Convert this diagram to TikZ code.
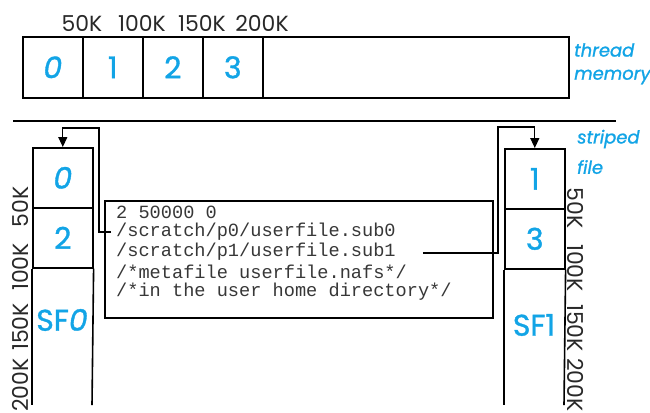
\documentclass[tikz,border=0pt]{standalone}
\usepackage{fontspec}
\setmainfont{Poppins}
\setmonofont{Liberation Mono}
\newfontfamily\inkfont{Poppins}[FakeBold=1.2]
\usetikzlibrary{arrows.meta}
\definecolor{inkblue}{RGB}{18,164,230}
\definecolor{labelgray}{RGB}{40,40,40}
\definecolor{codegray}{RGB}{55,55,55}
\begin{document}
\begin{tikzpicture}[x=1bp,y=-1bp,
  frame/.style={draw=black,line width=1.6bp},
  cell/.style={frame,minimum width=60bp,minimum height=60bp,inner sep=0pt,
    anchor=north west,text=inkblue,font=\inkfont\fontsize{30}{32}\selectfont},
  bluetxt/.style={text=inkblue,inner sep=0pt,font=\inkfont\fontsize{30}{32}\selectfont},
  note/.style={text=inkblue,inner sep=0pt,anchor=west,font=\inkfont\fontsize{18}{20}\selectfont},
  scalelabel/.style={text=labelgray,inner sep=0pt,font=\fontsize{22}{24}\selectfont},
  code/.style={text=codegray,inner sep=0pt,anchor=west,font=\ttfamily\fontsize{18.7}{20}\selectfont},
  conn/.style={draw=black,line width=1.3bp},
  tip/.style={-{Triangle[width=9bp,length=10bp]}}
]
\useasboundingbox (0,0) rectangle (650,412);

% thread memory buffer
\node[cell,minimum height=61bp] (m0) at (22,36) {\itshape 0};
\node[cell,minimum height=61bp] (m1) at (82,36) {1};
\node[cell,minimum height=61bp] (m2) at (142,36) {2};
\node[cell,minimum height=61bp] (m3) at (202,36) {3};
\node[frame,minimum width=306bp,minimum height=61bp,inner sep=0pt,anchor=north west] (mrest) at (262,36) {};
\node[scalelabel] (t50)  at (82,23)  {50K};
\node[scalelabel] (t100) at (142,23) {100K};
\node[scalelabel] (t150) at (202,23) {150K};
\node[scalelabel] (t200) at (262,23) {200K};
\node[note] (thread) at (574,50) {\itshape thread};
\node[note] (memory) at (574,77) {\itshape memory};

% separator
\draw[line width=2.4bp] (13,121) -- (616,121);

% striped file 0
\node[cell] (a0) at (32,147) {\itshape 0};
\node[cell] (a2) at (32,207) {2};
\draw[frame] (a2.south west) -- (32,405);
\draw[frame] (a2.south east) -- (92,405);
\node[bluetxt] (sf0) at (62,320) {SF\itshape 0};
\node[scalelabel,rotate=90] (l50)  at (20,207) {50K};
\node[scalelabel,rotate=90] (l100) at (20,267) {100K};
\node[scalelabel,rotate=90] (l150) at (20,327) {150K};
\node[scalelabel,rotate=90] (l200) at (20,385) {200K};

% striped file 1
\node[cell] (b1) at (504,148) {1};
\node[cell] (b3) at (504,208) {3};
\draw[frame] (b3.south west) -- (504,405);
\draw[frame] (b3.south east) -- (564,405);
\node[bluetxt] (sf1) at (534,325) {SF1};
\node[scalelabel,rotate=-90] (r50)  at (576,208) {50K};
\node[scalelabel,rotate=-90] (r100) at (576,268) {100K};
\node[scalelabel,rotate=-90] (r150) at (576,328) {150K};
\node[scalelabel,rotate=-90] (r200) at (576,385) {200K};
\node[note] (striped) at (577,139) {\itshape striped};
\node[note] (file) at (577,167) {\itshape file};

% metafile contents
\node[frame,minimum width=388bp,minimum height=117bp,inner sep=0pt,anchor=north west] (meta) at (104,200) {};
\node[code] (c1) at (116,212) {2 50000 0};
\node[code] (c2) at (116,232) {/scratch/p0/userfile.sub0};
\node[code] (c3) at (116,252) {/scratch/p1/userfile.sub1};
\node[code] (c4) at (116,272) {/*metafile userfile.nafs*/};
\node[code] (c5) at (116,292) {/*in the user home directory*/};

% links from the sub-file names to the stripes
\draw[conn,tip] ([xshift=-5bp]c2.west) -| (99,128) -| (a0.north);
\draw[conn,tip] ([xshift=27bp,yshift=-1bp]c3.east) -| (498,127) -| (b1.north);
\end{tikzpicture}
\end{document}
